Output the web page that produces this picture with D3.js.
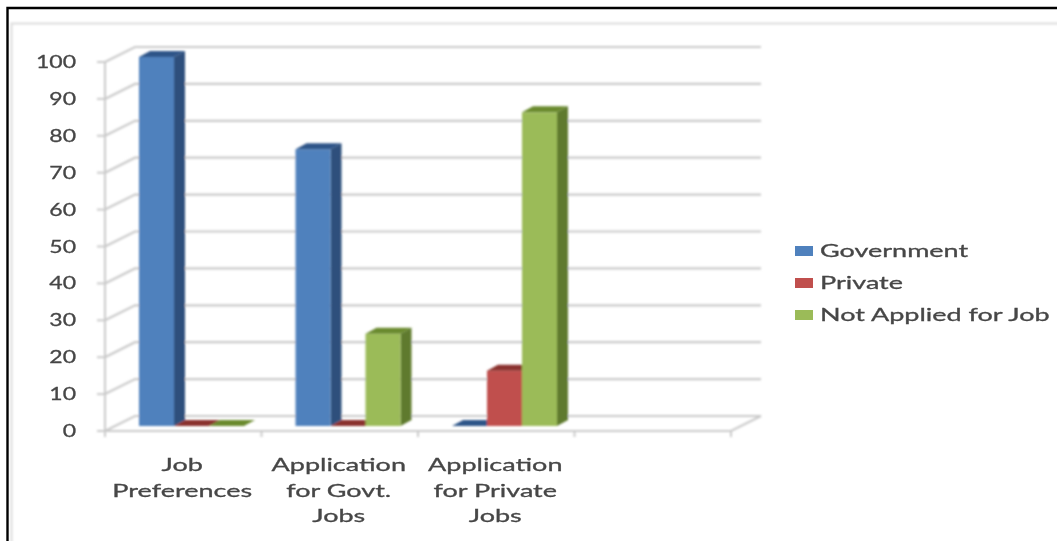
<!DOCTYPE html>
<html><head><meta charset="utf-8">
<script src="https://cdn.jsdelivr.net/npm/d3@7/dist/d3.min.js"></script>
<style>html,body{margin:0;padding:0;background:#fff}svg{display:block}text{font-family:Lato,"Open Sans",sans-serif;fill:#464646;stroke:#464646;stroke-width:0.3px}</style>
</head><body><svg id="c" width="1057" height="541"></svg>
<script>
const categories = ["Job Preferences","Application for Govt. Jobs","Application for Private Jobs",""];
const categoryLines = [["Job","Preferences"],["Application","for Govt.","Jobs"],["Application","for Private","Jobs"],[]];
const seriesNames = ["Government","Private","Not Applied for Job"];
const government = [100,75,0,null];
const privateJobs = [0,0,15,null];
const notApplied = [0,25,85,null];
const seriesValues = [government,privateJobs,notApplied];
const tickValues = [0,10,20,30,40,50,60,70,80,90,100];
const faceColors = ["#4f81bd","#c0504d","#9bbb59"];
const sideColors = ["#2f4f7c","#7c2f2d","#5f7a2f"];
const topColors = ["#2f5488","#8a302d","#6a8a2e"];

const svg = d3.select("#c");
const defs = svg.append("defs");
defs.append("filter").attr("id","soft").append("feGaussianBlur").attr("stdDeviation",0.8);
defs.append("filter").attr("id","softT").append("feGaussianBlur").attr("stdDeviation",0.6);

// frame
svg.append("rect").attr("x",11.5).attr("y",23.5).attr("width",1060).attr("height",540)
  .attr("fill","none").attr("stroke","#dcdcdc").attr("stroke-width",2).attr("filter","url(#soft)");
svg.append("path").attr("d","M7.5,541V8H1057").attr("fill","none").attr("stroke","#000").attr("stroke-width",2.4);

const DX = 30, DY = 15;        // wall offset
const dx = 11, dy = 6;         // bar depth
const yAxis = d3.scaleLinear().domain([0,100]).range([431,62]);
const yBar  = d3.scaleLinear().domain([0,100]).range([426,57]);
const x0 = d3.scaleBand().domain(categories).range([105,731]);
const x1 = d3.scaleBand().domain(seriesNames).range([34,139]);

const plot = svg.append("g").attr("filter","url(#soft)");
const grid = "#cacaca";
// gridlines on wall and side wall
tickValues.forEach(t=>{
  const y=yAxis(t);
  plot.append("path").attr("d",`M${105},${y}L${105+DX},${y-DY}L761,${y-DY}`+(t===0?`L731,${y}L105,${y}`:""))
    .attr("fill","none").attr("stroke",grid).attr("stroke-width",2.2);
  plot.append("line").attr("x1",97).attr("x2",105).attr("y1",y).attr("y2",y).attr("stroke",grid).attr("stroke-width",2);
});
plot.append("line").attr("x1",105).attr("x2",105).attr("y1",yAxis(100)).attr("y2",yAxis(0)+6).attr("stroke",grid).attr("stroke-width",2);
[...categories.map(c=>x0(c)).slice(1), 731].forEach(x=>{
  plot.append("line").attr("x1",x).attr("x2",x).attr("y1",yAxis(0)).attr("y2",yAxis(0)+6).attr("stroke",grid).attr("stroke-width",2);
});

// bars
categories.forEach((c,ci)=>{
  seriesNames.forEach((s,si)=>{
    const v = seriesValues[si][ci];
    if (v===null) return;
    const xl = x0(c)+x1(s), xr = xl+x1.bandwidth(), yt = yBar(v), yb = yBar(0);
    const g = plot.append("g");
    if (v>0){
      g.append("path").attr("d",`M${xr},${yt}L${xr+dx},${yt-dy}L${xr+dx},${yb-dy}L${xr},${yb}Z`).attr("fill",sideColors[si]);
      g.append("rect").attr("x",xl).attr("y",yt).attr("width",xr-xl).attr("height",yb-yt).attr("fill",faceColors[si]);
    }
    g.append("path").attr("d",`M${xl},${yt}L${xl+dx},${yt-dy}L${xr+dx},${yt-dy}L${xr},${yt}Z`).attr("fill",topColors[si]);
  });
});

// text helper: the reference is stretched horizontally
const SX_TEXT = 1.5, SX_NUM = 1.28, FS = 18;
const txtG = svg.append("g").attr("filter","url(#softT)");
function label(x,y,str,anchor,sx){
  txtG.append("text").attr("transform",`translate(${x},${y}) scale(${sx},1)`)
    .attr("text-anchor",anchor).attr("font-size",FS).text(str);
}
tickValues.forEach(t=>label(76,yAxis(t)+6,d3.format("d")(t),"end",SX_NUM));
categories.forEach((c,i)=>{
  categoryLines[i].forEach((ln,j)=>label(x0(c)+x0.bandwidth()/2-1,471+j*25.5,ln,"middle",SX_TEXT));
});

// legend
const legendY = d3.scalePoint().domain(seriesNames).range([251,315]);
seriesNames.forEach((s,i)=>{
  const y=legendY(s);
  svg.append("rect").attr("x",795).attr("y",y-5).attr("width",18).attr("height",10)
    .attr("fill",faceColors[i]).attr("filter","url(#softT)");
  label(820,y+6,s,"start",SX_TEXT);
});
</script></body></html>
